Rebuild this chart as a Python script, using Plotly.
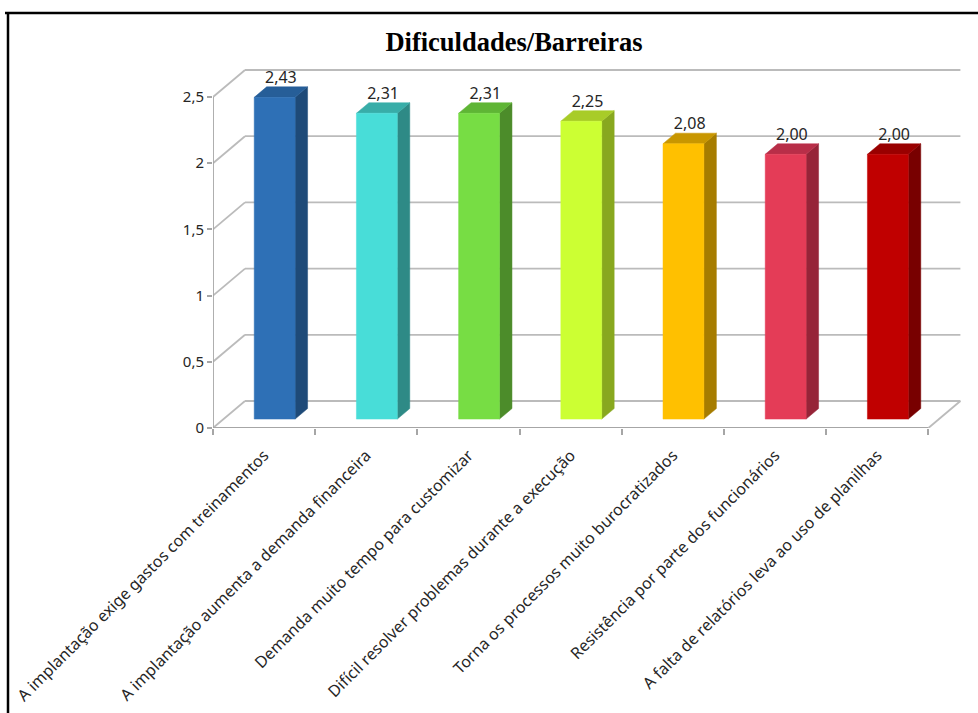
import plotly.graph_objects as go

# ---- data ----
categories = [
    "A implantação exige gastos com treinamentos",
    "A implantação aumenta a demanda financeira",
    "Demanda muito tempo para customizar",
    "Difícil resolver problemas durante a execução",
    "Torna os processos muito burocratizados",
    "Resistência por parte dos funcionários",
    "A falta de relatórios leva ao uso de planilhas",
]
values = [2.43, 2.31, 2.31, 2.25, 2.08, 2.00, 2.00]
y_ticks = [0, 0.5, 1, 1.5, 2, 2.5]
y_tick_labels = ["0", "0,5", "1", "1,5", "2", "2,5"]

front_colors = ["#2E70B6", "#48DDD8", "#77DD44", "#CCFF33", "#FFC000", "#E43C57", "#C00000"]
side_colors = ["#1E4A78", "#2E8A86", "#4C8C2A", "#88A81F", "#A67C00", "#962438", "#780000"]
top_colors = ["#265E98", "#38ADA8", "#5FB535", "#A8CC28", "#C89600", "#B82E48", "#990000"]

# ---- geometry of the oblique 3-D projection (data units) ----
W, H = 978, 713
PX_PER_CAT = 102.2
PX_PER_UNIT = 132.4
AXIS_X_PX = 213          # left end of the front floor edge
AXIS_Y_PX = 428          # front floor edge
DX = 32 / PX_PER_CAT     # full depth, horizontal shift
DY = 27 / PX_PER_UNIT    # full depth, vertical shift
HALF_W = 0.2             # half bar width (category units)
D0, D1 = 0.33, 0.72      # bar front / back depth fractions
n = len(categories)
x_lo, x_hi = -0.5, n - 0.5

x_range = [x_lo, x_lo + (W - AXIS_X_PX) / PX_PER_CAT]
y_range = [0, AXIS_Y_PX / PX_PER_UNIT]


def off(x, y, d):
    return x + DX * d, y + DY * d


fig = go.Figure()

GRID = "#BBBBBB"
AXIS = "#A6A6A6"
TEXT = "#262626"


def line_trace(xs, ys, color=GRID, width=1.8):
    fig.add_trace(go.Scatter(x=xs, y=ys, mode="lines", line=dict(color=color, width=width),
                             hoverinfo="skip", showlegend=False))


# back wall gridlines and side-wall diagonals
for v in y_ticks:
    bx0, by = off(x_lo, v, 1)
    bx1, _ = off(x_hi, v, 1)
    line_trace([bx0, bx1], [by, by])
    line_trace([x_lo, bx0], [v, by])

# floor: front edge and right-hand depth edge
fx, fy = off(x_hi, 0, 1)
line_trace([x_lo, x_hi], [0, 0], AXIS)
line_trace([x_hi, fx], [0, fy])
# vertical value axis on the front plane
line_trace([x_lo, x_lo], [0, y_ticks[-1]], AXIS)


def poly(pts, color):
    xs = [p[0] for p in pts] + [pts[0][0]]
    ys = [p[1] for p in pts] + [pts[0][1]]
    fig.add_trace(go.Scatter(x=xs, y=ys, mode="lines", fill="toself", fillcolor=color,
                             line=dict(color=color, width=0.5), hoverinfo="skip",
                             showlegend=False))


# bars: front, side and top faces
for i, v in enumerate(values):
    xl, xr = i - HALF_W, i + HALF_W
    front = [off(xl, 0, D0), off(xr, 0, D0), off(xr, v, D0), off(xl, v, D0)]
    side = [off(xr, 0, D0), off(xr, 0, D1), off(xr, v, D1), off(xr, v, D0)]
    top = [off(xl, v, D0), off(xr, v, D0), off(xr, v, D1), off(xl, v, D1)]
    poly(side, side_colors[i])
    poly(top, top_colors[i])
    poly(front, front_colors[i])

# value labels above each bar
lab_x = [off(i, v, (D0 + D1) / 2)[0] for i, v in enumerate(values)]
lab_y = [off(i, v, D1)[1] for i, v in enumerate(values)]
fig.add_trace(go.Scatter(
    x=lab_x, y=lab_y, mode="text",
    text=[f"{v:.2f}".replace(".", ",") for v in values],
    textposition="top center",
    textfont=dict(family="Noto Sans", size=16, color=TEXT),
    hoverinfo="skip", showlegend=False, cliponaxis=False,
))

# invisible trace to activate the secondary x axis (tick marks at category borders)
fig.add_trace(go.Scatter(x=[x_lo], y=[0], xaxis="x2", mode="markers",
                         marker=dict(opacity=0), hoverinfo="skip", showlegend=False))

x_dom = [AXIS_X_PX / W, 1]
y_dom = [(H - AXIS_Y_PX) / H, 1]

fig.update_layout(
    width=W, height=H, autosize=False,
    margin=dict(l=0, r=0, t=0, b=0, autoexpand=False),
    paper_bgcolor="white", plot_bgcolor="white",
    title=dict(text="<b>Dificuldades/Barreiras</b>", x=514 / W, xanchor="center",
               y=1 - 42 / H, yanchor="middle", yref="paper",
               font=dict(family="Liberation Serif", size=26.5, color="black")),
    xaxis=dict(domain=x_dom, range=x_range, tickvals=list(range(n)), ticktext=categories,
               tickangle=-45, ticks="", showgrid=False, zeroline=False, showline=False,
               automargin=False, ticklabelstandoff=14,
               tickfont=dict(family="Noto Sans", size=16, color=TEXT)),
    xaxis2=dict(domain=x_dom, range=x_range, overlaying="x", anchor="y", side="bottom",
                tickvals=[k - 0.5 for k in range(n + 1)], ticks="outside", ticklen=6,
                tickcolor=AXIS, tickwidth=1.5, showticklabels=False, showgrid=False,
                zeroline=False, showline=False, automargin=False),
    yaxis=dict(domain=y_dom, range=y_range, tickvals=y_ticks, ticktext=y_tick_labels,
               ticks="outside", ticklen=5, tickcolor=AXIS, tickwidth=1.5,
               showgrid=False, zeroline=False, showline=False, automargin=False,
               tickfont=dict(family="Noto Sans", size=15, color=TEXT)),
    shapes=[
        dict(type="line", xref="paper", yref="paper", x0=5 / W, x1=1, y0=1 - 13 / H, y1=1 - 13 / H,
             line=dict(color="black", width=2.5)),
        dict(type="line", xref="paper", yref="paper", x0=8 / W, x1=8 / W, y0=1 - 13 / H, y1=0,
             line=dict(color="black", width=2.5)),
    ],
)

fig.write_html("out.html")
